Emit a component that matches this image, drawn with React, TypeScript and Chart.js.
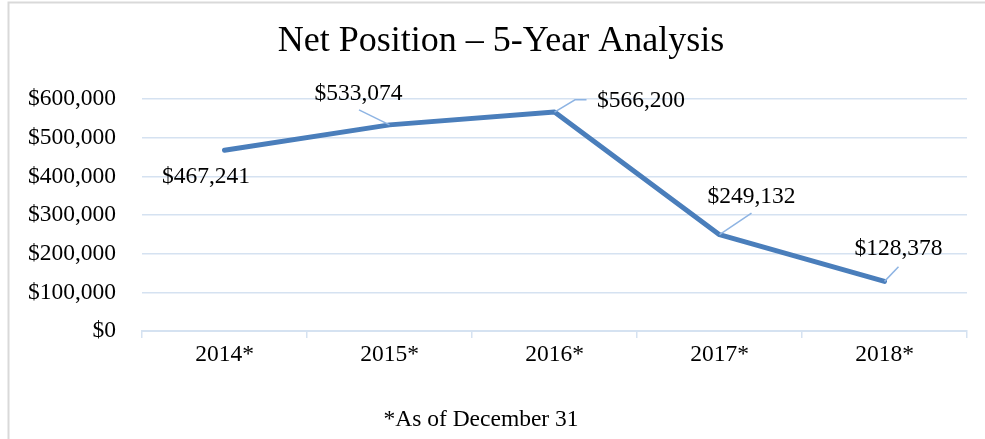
import React, { useEffect, useRef } from "react";
import { Chart, registerables } from "chart.js";

Chart.register(...registerables);

const categories = ["2014*", "2015*", "2016*", "2017*", "2018*"];
const netPosition = [467241, 533074, 566200, 249132, 128378];
const yTickValues = [0, 100000, 200000, 300000, 400000, 500000, 600000];
const chartTitle = "Net Position \u2013 5-Year Analysis";
const footnote = "*As of December 31";

// data label placement relative to each point (px), and leader line bends
const labelOffsets = [
  [-18.5, 26.5],
  [-31, -31.5],
  [86.5, -11],
  [32, -38.3],
  [14, -32.4],
];
const leaderPaths = [
  [],
  [[-30.5, -15]],
  [[20.5, -12.3], [32, -12.3]],
  [[32, -21.5]],
  [[14, -14.7]],
];

const FONT = "'Liberation Serif', 'Times New Roman', serif";
const fmt = (v: number) => "$" + v.toLocaleString("en-US");

export default function App() {
  const ref = useRef<HTMLCanvasElement | null>(null);

  useEffect(() => {
    if (!ref.current) return;
    const decor = {
      id: "decor",
      afterDatasetsDraw(chart: any) {
        const ctx = chart.ctx;
        const meta = chart.getDatasetMeta(0);
        ctx.save();
        // leader lines
        ctx.strokeStyle = "#8eb4e3";
        ctx.lineWidth = 1.5;
        meta.data.forEach((pt: any, i: number) => {
          const path = leaderPaths[i];
          if (!path.length) return;
          ctx.beginPath();
          ctx.moveTo(pt.x, pt.y);
          path.forEach(([dx, dy]) => ctx.lineTo(pt.x + dx, pt.y + dy));
          ctx.stroke();
        });
        // labels
        ctx.fillStyle = "#000";
        ctx.font = `23.5px ${FONT}`;
        ctx.textAlign = "center";
        ctx.textBaseline = "middle";
        meta.data.forEach((pt: any, i: number) => {
          const [dx, dy] = labelOffsets[i];
          ctx.fillText(fmt(netPosition[i]), pt.x + dx, pt.y + dy);
        });
        ctx.restore();
      },
      afterDraw(chart: any) {
        const ctx = chart.ctx;
        ctx.save();
        // border
        ctx.strokeStyle = "#d9d9d9";
        ctx.lineWidth = 2;
        ctx.beginPath();
        ctx.moveTo(8.5, 439);
        ctx.lineTo(8.5, 2.5);
        ctx.lineTo(985, 2.5);
        ctx.stroke();
        // title
        ctx.fillStyle = "#000";
        ctx.textAlign = "center";
        ctx.textBaseline = "middle";
        ctx.font = `36px ${FONT}`;
        ctx.fillText(chartTitle, 501, 41.5);
        // footnote
        ctx.font = `23.5px ${FONT}`;
        ctx.fillText(footnote, 481, 420);
        ctx.restore();
      },
    };

    const chart = new Chart(ref.current, {
      type: "line",
      data: {
        labels: categories,
        datasets: [
          {
            data: netPosition,
            borderColor: "#4a7ebb",
            borderWidth: 5,
            borderCapStyle: "round",
            borderJoinStyle: "round",
            pointRadius: 0,
            tension: 0,
            fill: false,
          },
        ],
      },
      options: {
        responsive: false,
        animation: false,
        layout: { padding: { left: 10, right: 18, top: 99, bottom: 0 } },
        plugins: {
          legend: { display: false },
          title: { display: false },
          tooltip: { enabled: false },
        },
        scales: {
          x: {
            offset: true,
            grid: {
              offset: true,
              drawOnChartArea: false,
              drawTicks: true,
              tickLength: 7,
              color: "#d5e2f1",
              lineWidth: 1.5,
            },
            border: { display: true, color: "#d5e2f1", width: 2 },
            ticks: {
              color: "#000",
              font: { family: FONT, size: 23.5 },
              padding: 3,
              maxRotation: 0,
            },
            afterFit(scale: any) {
              scale.height = 108;
            },
          },
          y: {
            min: 0,
            max: 600000,
            afterBuildTicks(scale: any) {
              scale.ticks = yTickValues.map((v) => ({ value: v }));
            },
            grid: { drawTicks: false, color: "#d5e2f1", lineWidth: 1.5 },
            border: { display: false },
            ticks: {
              color: "#000",
              font: { family: FONT, size: 23.5 },
              padding: 26,
              callback: (v: any) => fmt(Number(v)),
            },
            afterFit(scale: any) {
              scale.width = 132;
            },
          },
        },
      },
      plugins: [decor],
    } as any);
    return () => chart.destroy();
  }, []);

  return (
    <div style={{ position: "fixed", left: 0, top: 0, width: 985, height: 439, background: "#fff" }}>
      <canvas ref={ref} width={985} height={439} style={{ width: 985, height: 439, display: "block" }} />
    </div>
  );
}
